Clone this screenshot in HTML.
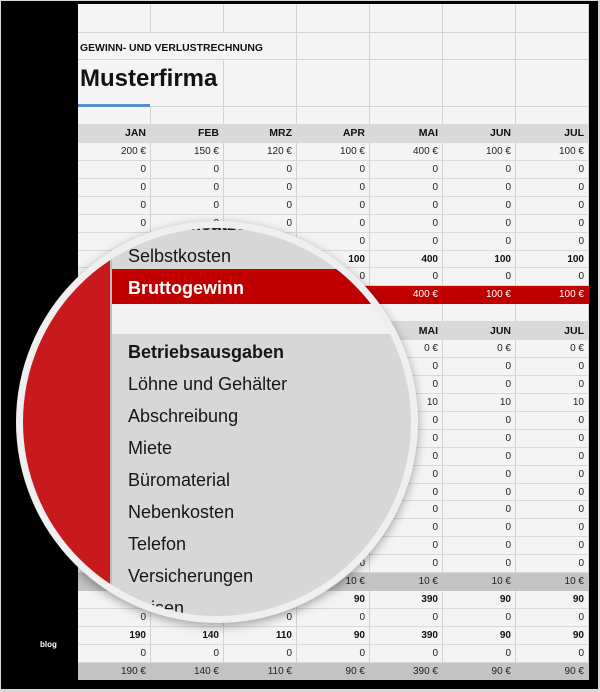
<!DOCTYPE html>
<html><head><meta charset="utf-8">
<style>
*{margin:0;padding:0}
body{width:600px;height:692px;position:relative;overflow:hidden;background:#d8d8d8;font-family:"Liberation Sans",Arial,sans-serif}
.abs{position:absolute}
#black{left:1px;top:1px;width:597px;height:688px;background:#000}
#sheet{left:78px;top:4px;width:511px;height:676px;background:#f4f4f4;overflow:hidden}
.hl{position:absolute;left:0;width:511px;height:1px;background:#d2d2d2}
.vl{position:absolute;width:1px;background:#d2d2d2}
#rows{position:absolute;left:0;top:120px;width:511px}
.r{display:flex;height:17.93px}
.r div{width:73px;flex:none;box-sizing:border-box;border-right:1px solid #d2d2d2;border-bottom:1px solid #d9d9d9;text-align:right;padding-right:4px;font-size:10px;line-height:17px;color:#222;white-space:nowrap}
.b div{font-weight:bold;color:#111}
.h{height:19px!important}
.h div,.hh div{background:#d9d9d9;border-color:#d9d9d9;font-weight:bold;font-size:10.5px;color:#111;line-height:19px}
.hh div{line-height:18px}
.red div{background:#c00000;border-color:#c00000;color:#fff}
.g div{background:#c3c3c3;border-color:#c3c3c3;color:#222}
#ring{left:16px;top:221px;width:402px;height:402px;border-radius:50%;background:#efefef;box-shadow:0 3px 10px rgba(0,0,0,0.35)}
#mag{left:23px;top:228px;width:388px;height:388px;border-radius:50%;overflow:hidden;background:#d7d7d7}
#mag .t{position:absolute;left:105px;top:-20.2px;font-size:18px;line-height:32px;color:#161616;white-space:nowrap}
#mag .t div{height:32px}
</style></head><body>
<div id="black" class="abs"></div>
<div id="sheet" class="abs">
  <div class="hl" style="top:28px"></div>
  <div class="hl" style="top:55px"></div>
  <div class="hl" style="top:102px"></div>
  <div class="vl" style="left:72px;top:0;height:28px"></div>
  <div class="vl" style="left:72px;top:102px;height:18px"></div>
  <div class="vl" style="left:145px;top:0;height:28px"></div>
  <div class="vl" style="left:145px;top:55px;height:65px"></div>
  <div class="vl" style="left:218px;top:0;height:120px"></div>
  <div class="vl" style="left:291px;top:0;height:120px"></div>
  <div class="vl" style="left:364px;top:0;height:120px"></div>
  <div class="vl" style="left:437px;top:0;height:120px"></div>
  <div class="vl" style="left:510px;top:0;height:120px"></div>
  <div class="abs" style="left:2px;top:39.4px;font-size:10.4px;line-height:12px;font-weight:bold;color:#111;white-space:nowrap">GEWINN- UND VERLUSTRECHNUNG</div>
  <div class="abs" style="left:2px;top:61px;font-size:24px;line-height:28px;font-weight:bold;color:#111;white-space:nowrap">Musterfirma</div>
  <div class="abs" style="left:0;top:100px;width:72px;height:3px;background:#5b8dc8"></div>
  <div id="rows">
    <div class="r h"><div>JAN</div><div>FEB</div><div>MRZ</div><div>APR</div><div>MAI</div><div>JUN</div><div>JUL</div></div>
    <div class="r"><div>200 €</div><div>150 €</div><div>120 €</div><div>100 €</div><div>400 €</div><div>100 €</div><div>100 €</div></div>
    <div class="r"><div>0</div><div>0</div><div>0</div><div>0</div><div>0</div><div>0</div><div>0</div></div>
    <div class="r"><div>0</div><div>0</div><div>0</div><div>0</div><div>0</div><div>0</div><div>0</div></div>
    <div class="r"><div>0</div><div>0</div><div>0</div><div>0</div><div>0</div><div>0</div><div>0</div></div>
    <div class="r"><div>0</div><div>0</div><div>0</div><div>0</div><div>0</div><div>0</div><div>0</div></div>
    <div class="r"><div>0</div><div>0</div><div>0</div><div>0</div><div>0</div><div>0</div><div>0</div></div>
    <div class="r b"><div>200</div><div>150</div><div>120</div><div>100</div><div>400</div><div>100</div><div>100</div></div>
    <div class="r"><div>0</div><div>0</div><div>0</div><div>0</div><div>0</div><div>0</div><div>0</div></div>
    <div class="r red"><div>200 €</div><div>150 €</div><div>120 €</div><div>100 €</div><div>400 €</div><div>100 €</div><div>100 €</div></div>
    <div class="r"><div></div><div></div><div></div><div></div><div></div><div></div><div></div></div>
    <div class="r hh"><div>JAN</div><div>FEB</div><div>MRZ</div><div>APR</div><div>MAI</div><div>JUN</div><div>JUL</div></div>
    <div class="r"><div>0 €</div><div>0 €</div><div>0 €</div><div>0 €</div><div>0 €</div><div>0 €</div><div>0 €</div></div>
    <div class="r"><div>0</div><div>0</div><div>0</div><div>0</div><div>0</div><div>0</div><div>0</div></div>
    <div class="r"><div>0</div><div>0</div><div>0</div><div>0</div><div>0</div><div>0</div><div>0</div></div>
    <div class="r"><div>10</div><div>10</div><div>10</div><div>10</div><div>10</div><div>10</div><div>10</div></div>
    <div class="r"><div>0</div><div>0</div><div>0</div><div>0</div><div>0</div><div>0</div><div>0</div></div>
    <div class="r"><div>0</div><div>0</div><div>0</div><div>0</div><div>0</div><div>0</div><div>0</div></div>
    <div class="r"><div>0</div><div>0</div><div>0</div><div>0</div><div>0</div><div>0</div><div>0</div></div>
    <div class="r"><div>0</div><div>0</div><div>0</div><div>0</div><div>0</div><div>0</div><div>0</div></div>
    <div class="r"><div>0</div><div>0</div><div>0</div><div>0</div><div>0</div><div>0</div><div>0</div></div>
    <div class="r"><div>0</div><div>0</div><div>0</div><div>0</div><div>0</div><div>0</div><div>0</div></div>
    <div class="r"><div>0</div><div>0</div><div>0</div><div>0</div><div>0</div><div>0</div><div>0</div></div>
    <div class="r"><div>0</div><div>0</div><div>0</div><div>0</div><div>0</div><div>0</div><div>0</div></div>
    <div class="r"><div>0</div><div>0</div><div>0</div><div>0</div><div>0</div><div>0</div><div>0</div></div>
    <div class="r g"><div>10 €</div><div>10 €</div><div>10 €</div><div>10 €</div><div>10 €</div><div>10 €</div><div>10 €</div></div>
    <div class="r b"><div>190</div><div>140</div><div>110</div><div>90</div><div>390</div><div>90</div><div>90</div></div>
    <div class="r"><div>0</div><div>0</div><div>0</div><div>0</div><div>0</div><div>0</div><div>0</div></div>
    <div class="r b"><div>190</div><div>140</div><div>110</div><div>90</div><div>390</div><div>90</div><div>90</div></div>
    <div class="r"><div>0</div><div>0</div><div>0</div><div>0</div><div>0</div><div>0</div><div>0</div></div>
    <div class="r g"><div>190 €</div><div>140 €</div><div>110 €</div><div>90 €</div><div>390 €</div><div>90 €</div><div>90 €</div></div>
  </div>
</div>
<div class="abs" style="left:40px;top:640px;font-size:8px;line-height:10px;font-weight:bold;color:#fff">blog</div>
<div id="ring" class="abs"></div>
<div id="mag" class="abs">
  <div class="abs" style="left:0;top:0;width:87px;height:388px;background:#c81a1d"></div>
  <div class="abs" style="left:87px;top:0;width:2px;height:388px;background:#bdbdbd"></div>
  <div class="abs" style="left:89px;top:41px;width:300px;height:35px;background:#c00000"></div>
  <div class="abs" style="left:89px;top:76px;width:300px;height:30px;background:#f2f2f2"></div>
  <div class="t">
    <div style="font-weight:bold">Nettoumsätze</div>
    <div>Selbstkosten</div>
    <div style="font-weight:bold;color:#fff">Bruttogewinn</div>
    <div></div>
    <div style="font-weight:bold">Betriebsausgaben</div>
    <div>Löhne und Gehälter</div>
    <div>Abschreibung</div>
    <div>Miete</div>
    <div>Büromaterial</div>
    <div>Nebenkosten</div>
    <div>Telefon</div>
    <div>Versicherungen</div>
    <div>Reisen</div>
  </div>
</div>
</body></html>
